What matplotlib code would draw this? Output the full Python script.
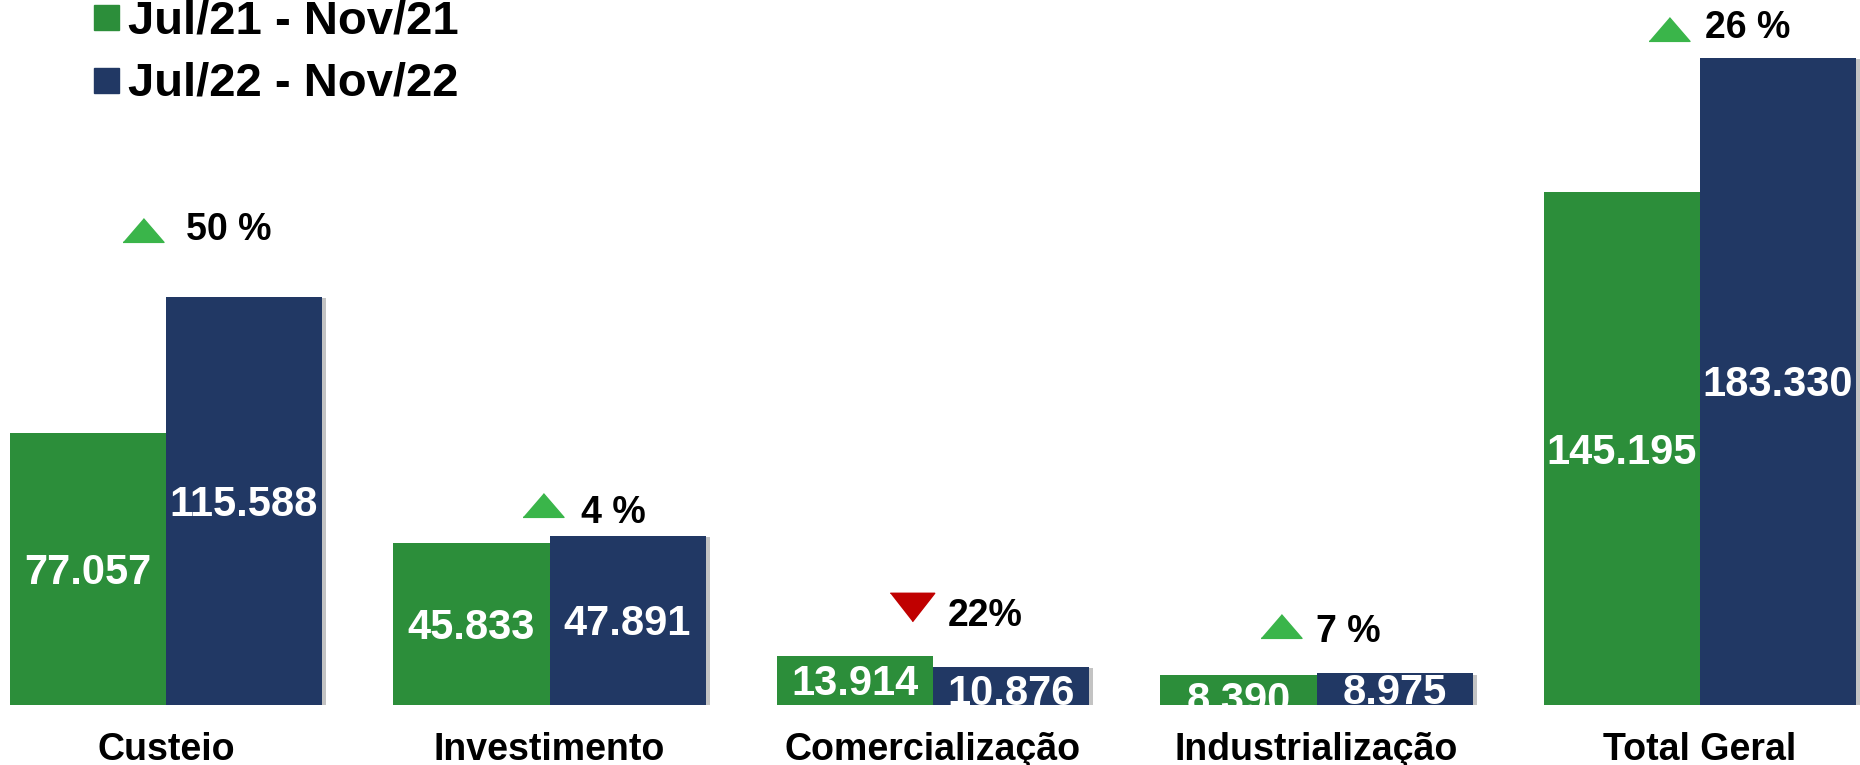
import matplotlib
matplotlib.use("Agg")
import matplotlib.pyplot as plt
import matplotlib.patheffects as pe
from matplotlib.patches import Rectangle
from matplotlib.transforms import blended_transform_factory
import numpy as np

plt.rcParams['font.family'] = ['Liberation Sans', 'DejaVu Sans']
plt.rcParams['font.weight'] = 'bold'

# dados
categorias = ['Custeio', 'Investimento', 'Comercialização', 'Industrialização', 'Total Geral']
serie_21 = [77057, 45833, 13914, 8390, 145195]
serie_22 = [115588, 47891, 10876, 8975, 183330]
variacao = ['50 %', '4 %', '22%', '7 %', '26 %']
sobe = [True, True, False, True, True]
legenda = ['Jul/21 - Nov/21', 'Jul/22 - Nov/22']

verde = '#2C8E3A'
azul = '#213864'
seta_verde = '#3AB54A'
seta_vermelha = '#C00000'

# posicoes das setas e dos textos de variacao (x em unidades de grupo, y em valor)
seta_x = [-0.059, 0.984, 1.944, 2.907, 3.918]
seta_y = [134560, 56660, 27760, 22380, 191640]
texto_x = [0.052, 1.082, 2.039, 2.999, 4.013]
texto_y = [131730, 51560, 22380, 17850, 188950]
# deslocamento extra (pt) dos rotulos que encostam na base
desl_21 = [0, 0, 0, 5, 0]
desl_22 = [0, 0, 3, 0, 0]

W, H = 1860, 765
fig = plt.figure(figsize=(W / 100, H / 100), dpi=100)
ax = fig.add_axes([0, 60 / H, 1, 705 / H])

x = np.arange(len(categorias))
larg = 0.4068
b1 = ax.bar(x - larg / 2, serie_21, larg, color=verde)
b2 = ax.bar(x + larg / 2, serie_22, larg, color=azul)
for r in b2:
    r.set_path_effects([pe.SimplePatchShadow(offset=(3, -1), shadow_rgbFace='#555555', alpha=0.35),
                        pe.Normal()])

ax.set_xlim(-166 / 383.5, (W - 166) / 383.5)
ax.set_ylim(0, 705 / 3.53 * 1000)
ax.axis('off')

def fmt(v):
    return f"{v:,.0f}".replace(",", ".")

for xi, v, d in zip(x - larg / 2, serie_21, desl_21):
    ax.annotate(fmt(v), (xi, v / 2), xytext=(0, -10.8 - d), textcoords='offset points',
                ha='center', va='baseline', color='white', fontsize=30,
                fontweight='bold', clip_on=True)
for xi, v, d in zip(x + larg / 2, serie_22, desl_22):
    ax.annotate(fmt(v), (xi, v / 2), xytext=(0, -10.8 - d), textcoords='offset points',
                ha='center', va='baseline', color='white', fontsize=30,
                fontweight='bold', clip_on=True)

# setas de variacao
tri_cima = [(-1, -0.58), (1, -0.58), (0, 0.58)]
tri_baixo = [(-1, 0.64), (1, 0.64), (0, -0.64)]
for sx, sy, tx, ty, txt, up in zip(seta_x, seta_y, texto_x, texto_y, variacao, sobe):
    if up:
        ax.plot(sx, sy, marker=tri_cima, markersize=29.5, color=seta_verde, linestyle='none')
    else:
        ax.plot(sx, sy, marker=tri_baixo, markersize=32, color=seta_vermelha, linestyle='none')
    ax.text(tx, ty, txt, ha='left', va='baseline', fontsize=27, fontweight='bold', color='black')

# rotulos das categorias
trans = blended_transform_factory(ax.transData, ax.transAxes)
for xi, c in zip(x, categorias):
    ax.text(xi, (705 - 760) / 705, c, transform=trans, ha='center', va='baseline',
            fontsize=27, fontweight='bold', clip_on=False)

# legenda
for i, (lab, cor) in enumerate(zip(legenda, [verde, azul])):
    y0 = 5 + 63 * i
    fig.add_artist(Rectangle((94 / W, 1 - (y0 + 25) / H), 25 / W, 25 / H,
                             transform=fig.transFigure, color=cor))
    fig.text(128 / W, 1 - (33 + 63 * i) / H, lab, ha='left', va='baseline',
             fontsize=34, fontweight='bold')

fig.savefig('out.png', dpi=100)
